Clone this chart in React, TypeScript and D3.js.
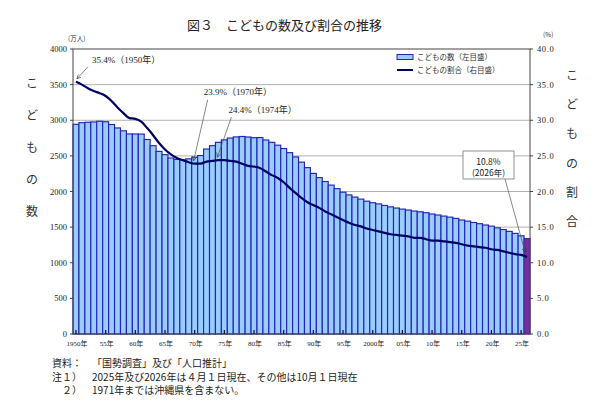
import { useEffect, useRef } from 'react'
import * as d3 from 'd3'

// こどもの数（万人）と割合（%）1950〜2026年
const YEARS = d3.range(1950, 2027)

const CHILDREN = [
  2943, 2966, 2972, 2976, 2986, 2979, 2940, 2892, 2852, 2808,
  2807, 2806, 2730, 2643, 2563, 2517, 2470, 2450, 2443, 2458,
  2482, 2505, 2596, 2643, 2690, 2725, 2750, 2766, 2772, 2765,
  2755, 2757, 2723, 2690, 2650, 2603, 2545, 2485, 2412, 2335,
  2254, 2195, 2140, 2090, 2040, 1990, 1952, 1922, 1893, 1864,
  1842, 1826, 1804, 1784, 1768, 1753, 1740, 1726, 1715, 1702,
  1684, 1670, 1655, 1640, 1623, 1600, 1584, 1565, 1548, 1530,
  1514, 1490, 1466, 1440, 1412, 1378, 1340,
]

const RATIO = [
  35.4, 35.0, 34.5, 34.1, 33.8, 33.4, 32.7, 31.8, 31.0, 30.3,
  30.2, 29.8, 28.9, 27.9, 26.8, 25.9, 25.2, 24.7, 24.4, 24.1,
  23.9, 23.9, 24.2, 24.3, 24.4, 24.4, 24.3, 24.2, 23.9, 23.6,
  23.5, 23.3, 22.8, 22.3, 21.9, 21.3, 20.5, 19.8, 19.1, 18.5,
  18.1, 17.7, 17.2, 16.8, 16.4, 16.0, 15.6, 15.3, 15.1, 14.8,
  14.6, 14.4, 14.2, 14.0, 13.9, 13.8, 13.7, 13.5, 13.5, 13.3,
  13.1, 13.1, 13.0, 12.9, 12.8, 12.6, 12.4, 12.3, 12.2, 12.1,
  11.9, 11.8, 11.6, 11.4, 11.2, 11.1, 10.8,
]

const LEFT_TICKS = [0, 500, 1000, 1500, 2000, 2500, 3000, 3500, 4000]
const RIGHT_TICKS = [0, 5, 10, 15, 20, 25, 30, 35, 40]
const X_TICK_YEARS = [1950, 1955, 1960, 1965, 1970, 1975, 1980, 1985, 1990, 1995, 2000, 2005, 2010, 2015, 2020, 2025]
const X_TICK_LABELS = ['1950年', '55年', '60年', '65年', '70年', '75年', '80年', '85年', '90年', '95年', '2000年', '05年', '10年', '15年', '20年', '25年']

const ANNOTATIONS = [
  { year: 1950, text: '35.4%（1950年）' },
  { year: 1970, text: '23.9%（1970年）' },
  { year: 1974, text: '24.4%（1974年）' },
]

const TITLE = '図３　こどもの数及び割合の推移'
const NOTES = [
  { head: '資料：', body: '「国勢調査」及び「人口推計」' },
  { head: '注１）', body: '2025年及び2026年は４月１日現在、その他は10月１日現在' },
  { head: '　２）', body: '1971年までは沖縄県を含まない。' },
]

const JP = '"Noto Sans CJK JP", sans-serif'
const SERIF = '"Liberation Serif", "Noto Sans CJK JP", serif'

export default function App() {
  const svgRef = useRef<SVGSVGElement>(null)

  useEffect(() => {
    if (!svgRef.current) return
    const W = 600
    const H = 414
    const plot = { left: 73, right: 530, top: 49, bottom: 334 }

    const svg = d3.select(svgRef.current)
    svg.selectAll('*').remove()
    svg.attr('width', W).attr('height', H)
    svg.append('rect').attr('width', W).attr('height', H).attr('fill', '#fff')

    const x = d3.scaleBand<number>().domain(YEARS).range([plot.left, plot.right]).padding(0)
    const cx = (yr: number) => (x(yr) ?? 0) + x.bandwidth() / 2
    const yL = d3.scaleLinear().domain([0, 4000]).range([plot.bottom, plot.top])
    const yR = d3.scaleLinear().domain([0, 40]).range([plot.bottom, plot.top])

    const defs = svg.append('defs')
    defs.append('marker')
      .attr('id', 'arr')
      .attr('viewBox', '0 0 8 8')
      .attr('refX', 7).attr('refY', 4)
      .attr('markerWidth', 7).attr('markerHeight', 7)
      .attr('orient', 'auto')
      .append('path')
      .attr('d', 'M0,0.5 L7,4 L0,7.5')
      .attr('fill', 'none')
      .attr('stroke', '#333')
      .attr('stroke-width', 1)

    // title
    svg.append('text')
      .attr('x', 187).attr('y', 30)
      .style('font-family', JP).style('font-size', '13px').style('fill', '#222')
      .text(TITLE)

    // gridlines
    LEFT_TICKS.slice(1, -1).forEach((v) => {
      svg.append('line')
        .attr('x1', plot.left).attr('x2', plot.right)
        .attr('y1', yL(v)).attr('y2', yL(v))
        .attr('stroke', '#b0b0b0').attr('stroke-width', 1)
    })

    // bars
    svg.append('g')
      .selectAll('rect')
      .data(YEARS)
      .join('rect')
      .attr('x', (d) => x(d) ?? 0)
      .attr('width', x.bandwidth())
      .attr('y', (d, i) => yL(CHILDREN[i]))
      .attr('height', (d, i) => yL(0) - yL(CHILDREN[i]))
      .attr('fill', (d) => (d === 2026 ? '#7030A0' : '#99CCFF'))
      .attr('stroke', (d) => (d === 2026 ? '#5a2090' : '#2424b4'))
      .attr('stroke-width', 1.15)

    // ratio line
    const line = d3.line<number>()
      .x((d, i) => cx(YEARS[i]))
      .y((d) => yR(d))
      .curve(d3.curveMonotoneX)
    svg.append('path')
      .datum(RATIO)
      .attr('d', line)
      .attr('fill', 'none')
      .attr('stroke', '#000066')
      .attr('stroke-width', 2.2)

    // frame
    svg.append('rect')
      .attr('x', plot.left).attr('y', plot.top)
      .attr('width', plot.right - plot.left).attr('height', plot.bottom - plot.top)
      .attr('fill', 'none').attr('stroke', '#444').attr('stroke-width', 1)

    // left axis
    LEFT_TICKS.forEach((v) => {
      svg.append('line')
        .attr('x1', plot.left - 3).attr('x2', plot.left)
        .attr('y1', yL(v)).attr('y2', yL(v))
        .attr('stroke', '#444')
      svg.append('text')
        .attr('x', plot.left - 6).attr('y', yL(v) + 3)
        .attr('text-anchor', 'end')
        .style('font-family', SERIF).style('font-size', '8.5px').style('fill', '#222')
        .text(v)
    })
    svg.append('text')
      .attr('x', 68).attr('y', 41)
      .style('font-family', JP).style('font-size', '6.5px').style('fill', '#333')
      .text('(万人)')

    // right axis
    RIGHT_TICKS.forEach((v) => {
      svg.append('line')
        .attr('x1', plot.right).attr('x2', plot.right + 3)
        .attr('y1', yR(v)).attr('y2', yR(v))
        .attr('stroke', '#444')
      svg.append('text')
        .attr('x', plot.right + 7).attr('y', yR(v) + 3)
        .style('font-family', SERIF).style('font-size', '8.5px').style('fill', '#222')
        .style('letter-spacing', '0.6px')
        .text(v.toFixed(1))
    })
    svg.append('text')
      .attr('x', 543).attr('y', 37)
      .style('font-family', JP).style('font-size', '6.5px').style('fill', '#333')
      .text('(%)')

    // bottom ticks and labels
    X_TICK_YEARS.forEach((yr, i) => {
      svg.append('line')
        .attr('x1', cx(yr)).attr('x2', cx(yr))
        .attr('y1', plot.bottom).attr('y2', plot.bottom - 4)
        .attr('stroke', '#111').attr('stroke-width', 1.2)
      svg.append('text')
        .attr('x', cx(yr) + 1).attr('y', plot.bottom + 12)
        .attr('text-anchor', 'middle')
        .style('font-family', SERIF).style('font-size', '7px').style('fill', '#222')
        .text(X_TICK_LABELS[i])
    })

    // vertical axis titles
    const leftTitle = ['こ', 'ど', 'も', 'の', '数']
    leftTitle.forEach((c, i) => {
      svg.append('text')
        .attr('x', 32).attr('y', 88 + i * 32)
        .attr('text-anchor', 'middle')
        .style('font-family', JP).style('font-size', '12px').style('fill', '#333')
        .text(c)
    })
    const rightTitle = ['こ', 'ど', 'も', 'の', '割', '合']
    rightTitle.forEach((c, i) => {
      svg.append('text')
        .attr('x', 572).attr('y', 80 + i * 29.2)
        .attr('text-anchor', 'middle')
        .style('font-family', JP).style('font-size', '12px').style('fill', '#333')
        .text(c)
    })

    // legend
    const lg = svg.append('g').attr('transform', 'translate(397,57)')
    lg.append('rect')
      .attr('x', 0).attr('y', -2.5).attr('width', 16).attr('height', 5)
      .attr('fill', '#99CCFF').attr('stroke', '#2424b4').attr('stroke-width', 1)
    lg.append('text')
      .attr('x', 20).attr('y', 3)
      .style('font-family', JP).style('font-size', '7.5px').style('fill', '#333')
      .text('こどもの数（左目盛）')
    lg.append('line')
      .attr('x1', 0).attr('x2', 16).attr('y1', 13).attr('y2', 13)
      .attr('stroke', '#000066').attr('stroke-width', 2)
    lg.append('text')
      .attr('x', 20).attr('y', 16)
      .style('font-family', JP).style('font-size', '7.5px').style('fill', '#333')
      .text('こどもの割合（右目盛）')

    // annotations
    const offsets: Record<number, { tx: number; ty: number; lx: number; ly: number }> = {
      1950: { tx: 15, ty: -16, lx: 11, ly: -12 },
      1970: { tx: 10, ty: -66, lx: 14, ly: -61 },
      1974: { tx: 11, ty: -44, lx: 14, ly: -40 },
    }
    ANNOTATIONS.forEach((a) => {
      const i = YEARS.indexOf(a.year)
      const px = cx(a.year) + (a.year === 1950 ? 1 : -1)
      const py = yR(RATIO[i]) - 3
      const o = offsets[a.year]
      svg.append('line')
        .attr('x1', px + o.lx).attr('y1', py + o.ly)
        .attr('x2', px).attr('y2', py)
        .attr('stroke', '#555').attr('stroke-width', 0.7)
        .attr('marker-end', 'url(#arr)')
      svg.append('text')
        .attr('x', px + o.tx).attr('y', py + o.ty)
        .style('font-family', SERIF).style('font-size', '9px').style('fill', '#222')
        .text(a.text)
    })

    // 2026 callout
    const last = YEARS.length - 1
    const tipX = cx(YEARS[last]) - 2
    const tipY = yR(RATIO[last]) - 5
    svg.append('line')
      .attr('x1', 505).attr('y1', 179)
      .attr('x2', tipX).attr('y2', tipY)
      .attr('stroke', '#555').attr('stroke-width', 0.7)
      .attr('marker-end', 'url(#arr)')
    svg.append('rect')
      .attr('x', 463).attr('y', 151).attr('width', 51).attr('height', 28)
      .attr('fill', '#fff').attr('stroke', '#777').attr('stroke-width', 0.8)
    svg.append('text')
      .attr('x', 488.5).attr('y', 165)
      .attr('text-anchor', 'middle')
      .style('font-family', JP).style('font-size', '8.5px').style('fill', '#222')
      .text(`${RATIO[last].toFixed(1)}%`)
    svg.append('text')
      .attr('x', 488.5).attr('y', 176)
      .attr('text-anchor', 'middle')
      .style('font-family', JP).style('font-size', '8.5px').style('fill', '#222')
      .text(`(${YEARS[last]}年)`)

    // notes
    NOTES.forEach((n, i) => {
      const y = 367 + i * 13.5
      svg.append('text')
        .attr('x', 52).attr('y', y)
        .style('font-family', JP).style('font-size', '10px').style('fill', '#222')
        .text(n.head)
      svg.append('text')
        .attr('x', 92).attr('y', y)
        .style('font-family', JP).style('font-size', '10px').style('fill', '#222')
        .text(n.body)
    })
  }, [])

  return (
    <div style={{ position: 'absolute', left: 0, top: 0 }}>
      <svg ref={svgRef} style={{ display: 'block' }} />
    </div>
  )
}
